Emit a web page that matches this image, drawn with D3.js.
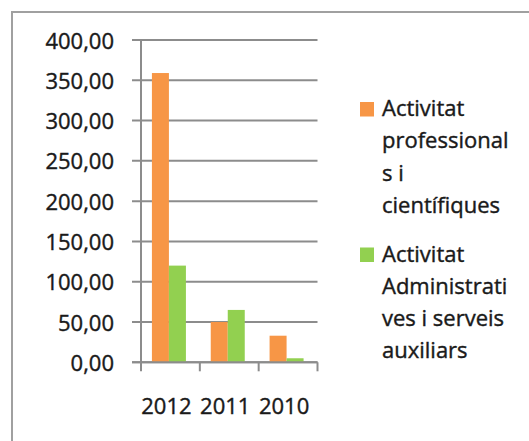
<!DOCTYPE html>
<html lang="ca">
<head>
    <meta charset="UTF-8">
    <title>Activitat per any</title>
    <style>
        body { margin: 0; background: #fff; }
        text { font-family: "Open Sans", sans-serif; fill: #1a1a1a; stroke: #1a1a1a; stroke-width: 0.4px; }
        .grid line { stroke: #8c8c8c; stroke-width: 2px; }
    </style>
</head>
<body>
    <svg width="529" height="441"></svg>
    <script src="https://d3js.org/d3.v7.min.js"></script>
    <script>
        // data
        const years = ["2012", "2011", "2010"];
        const professionals = [359, 50, 33];
        const administratives = [120, 65, 5];
        const yTicks = [0, 50, 100, 150, 200, 250, 300, 350, 400];
        const seriesNames = [
            ["Activitat", "professional", "s i", "científiques"],
            ["Activitat", "Administrati", "ves i serveis", "auxiliars"]
        ];
        const colors = ["#f79646", "#92d050"];

        const svg = d3.select("svg");

        // chart border (runs off the right and bottom edges)
        svg.append("rect")
            .attr("x", 12).attr("y", 12)
            .attr("width", 560).attr("height", 470)
            .attr("fill", "none")
            .attr("stroke", "#a0a0a0")
            .attr("stroke-width", 2);

        const plotLeft = 141, plotRight = 317.5, plotTop = 40, plotBottom = 362.3;

        const x = d3.scaleBand().domain(years).range([plotLeft, plotRight]);
        const y = d3.scaleLinear().domain([0, 400]).range([plotBottom, plotTop]);

        const fmt = d3.formatLocale({ decimal: ",", thousands: ".", grouping: [3], currency: ["", "€"] }).format(".2f");

        // gridlines, with a short tick to the left of the axis
        svg.append("g").attr("class", "grid")
            .selectAll("line").data(yTicks).join("line")
            .attr("x1", plotLeft - 9).attr("x2", plotRight)
            .attr("y1", d => y(d)).attr("y2", d => y(d));

        // y labels
        svg.append("g")
            .selectAll("text").data(yTicks).join("text")
            .attr("x", 114)
            .attr("y", d => y(d) + 8.5)
            .attr("text-anchor", "end")
            .style("font-size", "22px")
            .text(d => fmt(d));

        // y axis line
        svg.append("line")
            .attr("x1", plotLeft).attr("x2", plotLeft)
            .attr("y1", plotTop).attr("y2", plotBottom + 9)
            .attr("stroke", "#8c8c8c").attr("stroke-width", 2);

        // x tick marks at category boundaries
        const bounds = years.map(d => x(d)).concat([plotRight]);
        svg.append("g").attr("class", "grid")
            .selectAll("line").data(bounds.slice(1)).join("line")
            .attr("x1", d => d).attr("x2", d => d)
            .attr("y1", plotBottom).attr("y2", plotBottom + 9);

        // bars
        const barW = 17;
        const series = [professionals, administratives];
        series.forEach((vals, i) => {
            svg.append("g")
                .selectAll("rect").data(years).join("rect")
                .attr("x", d => x(d) + x.bandwidth() / 2 - 1.5 - barW + i * barW)
                .attr("y", (d, j) => y(vals[j]))
                .attr("width", barW)
                .attr("height", (d, j) => y(0) - y(vals[j]))
                .attr("fill", colors[i]);
        });

        // redraw zero line over the bars
        svg.append("line")
            .attr("x1", plotLeft - 9).attr("x2", plotRight)
            .attr("y1", y(0)).attr("y2", y(0))
            .attr("stroke", "#8c8c8c").attr("stroke-width", 2);

        // x labels
        svg.append("g")
            .selectAll("text").data(years).join("text")
            .attr("x", d => x(d) + x.bandwidth() / 2 - 4)
            .attr("y", 414)
            .attr("text-anchor", "middle")
            .style("font-size", "22px")
            .text(d => d);

        // legend
        const legendTop = [102, 247.5];
        seriesNames.forEach((lines, i) => {
            const g = svg.append("g");
            g.append("rect")
                .attr("x", 360).attr("y", legendTop[i])
                .attr("width", 14).attr("height", 14.5)
                .attr("fill", colors[i]);
            const t = g.append("text")
                .attr("x", 382)
                .attr("y", legendTop[i] + 14)
                .style("font-size", "22px");
            t.selectAll("tspan").data(lines).join("tspan")
                .attr("x", 382)
                .attr("dy", (d, k) => k === 0 ? 0 : 32.3)
                .text(d => d);
        });
    </script>
</body>
</html>
